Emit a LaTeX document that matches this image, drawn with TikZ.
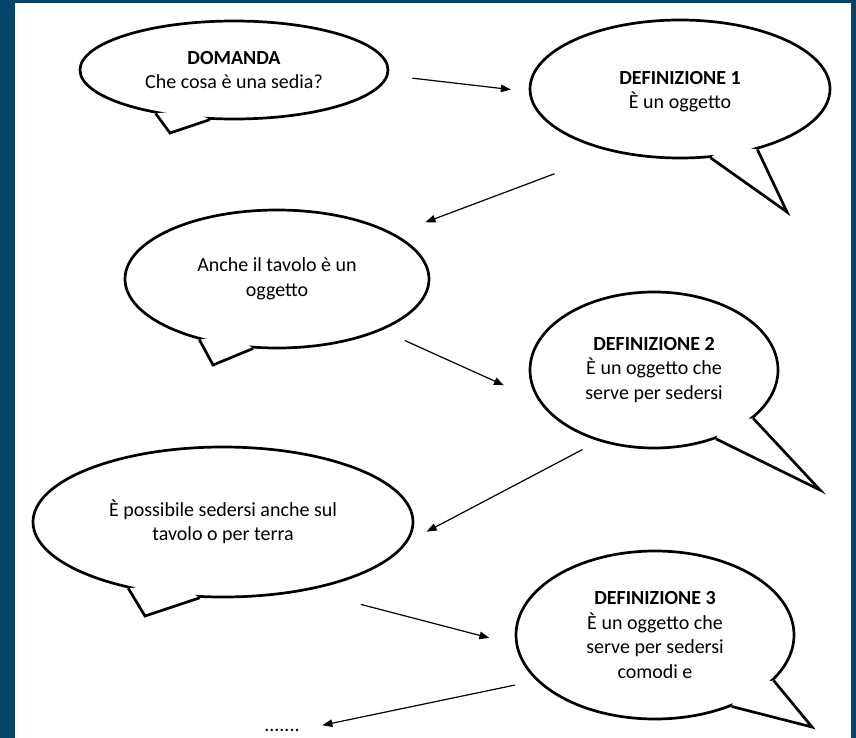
\documentclass[tikz,border=0pt]{standalone}
\usepackage{fontspec}
\setmainfont{Carlito}
\usetikzlibrary{shapes.geometric,arrows.meta,calc}
\definecolor{frameblue}{RGB}{8,68,106}
\tikzset{
    bubble/.style={ellipse, draw, line width=2.7pt, fill=white, inner sep=0pt,
        align=center, font=\fontsize{20}{24.5}\selectfont},
    tail/.style={line width=2.7pt, line join=miter},
    link/.style={line width=1.2pt, -{Triangle[length=10pt,width=7.5pt]}},
}

\begin{document}
\begin{tikzpicture}[x=1pt,y=-1pt]
        % Frame
        \fill[frameblue] (0,0) rectangle (856,738);
        \fill[white] (15,3) rectangle (851,738);

        % Bubbles
        \node[bubble, minimum width=308pt, minimum height=98pt] (dom) at (234,70)
            {\textbf{DOMANDA}\\Che cosa è una sedia?};
        \node[bubble, minimum width=300pt, minimum height=138pt] (def1) at (680,89)
            {\\[-6pt]\textbf{DEFINIZIONE 1}\\È un oggetto};
        \node[bubble, minimum width=304pt, minimum height=138pt] (tav) at (277,279)
            {Anche il tavolo è un\\oggetto};
        \node[bubble, minimum width=248pt, minimum height=156pt] (def2) at (654,370)
            {\textbf{DEFINIZIONE 2}\\È un oggetto che\\serve per sedersi};
        \node[bubble, minimum width=380pt, minimum height=150pt] (poss) at (223,522)
            {È possibile sedersi anche sul\\tavolo o per terra};
        \node[bubble, minimum width=278pt, minimum height=168pt] (def3) at (655,635)
            {\textbf{DEFINIZIONE 3}\\È un oggetto che\\serve per sedersi\\comodi e};
        \node[font=\fontsize{20}{24}\selectfont, inner sep=0pt, anchor=base] (dots) at (282,731) {.......};

        % Tails of the bubbles
        \fill[white] (dom.209) -- (170,133) -- (dom.244) -- ($(dom.209)!.5!(dom.244)!.15!(dom.center)$) -- cycle;
        \draw[tail] (dom.209) -- (170,133) -- (dom.244);
        \fill[white] (def1.322) -- (787,212) -- (def1.294) -- ($(def1.322)!.5!(def1.294)!.15!(def1.center)$) -- cycle;
        \draw[tail] (def1.322) -- (787,212) -- (def1.294);
        \fill[white] (tav.218) -- (213,365) -- (tav.251) -- ($(tav.218)!.5!(tav.251)!.15!(tav.center)$) -- cycle;
        \draw[tail] (tav.218) -- (213,365) -- (tav.251);
        \fill[white] (def2.334) -- (820,490) -- (def2.312) -- ($(def2.334)!.5!(def2.312)!.15!(def2.center)$) -- cycle;
        \draw[tail] (def2.334) -- (820,490) -- (def2.312);
        \fill[white] (poss.215) -- (145,616) -- (poss.253) -- ($(poss.215)!.5!(poss.253)!.15!(poss.center)$) -- cycle;
        \draw[tail] (poss.215) -- (145,616) -- (poss.253);
        \fill[white] (def3.339) -- (812,727) -- (def3.317) -- ($(def3.339)!.5!(def3.317)!.15!(def3.center)$) -- cycle;
        \draw[tail] (def3.339) -- (812,727) -- (def3.317);

        % Arrows between the bubbles
        \draw[link, shorten <=24pt, shorten >=18pt] (dom.358) -- (def1.181);
        \draw[link, shorten <=62pt, shorten >=33pt] (def1.223) -- (tav.21);
        \draw[link, shorten <=25pt, shorten >=38pt] (tav.334) -- (def2.195);
        \draw[link, shorten <=18pt, shorten >=21pt] (def2.232) -- (poss.354);
        \draw[link, shorten <=55pt, shorten >=27pt] (poss.321) -- (def3.184);
        \draw[link, shorten <=22pt, shorten >=23pt] (def3.201) -- (dots.east);
\end{tikzpicture}
\end{document}
